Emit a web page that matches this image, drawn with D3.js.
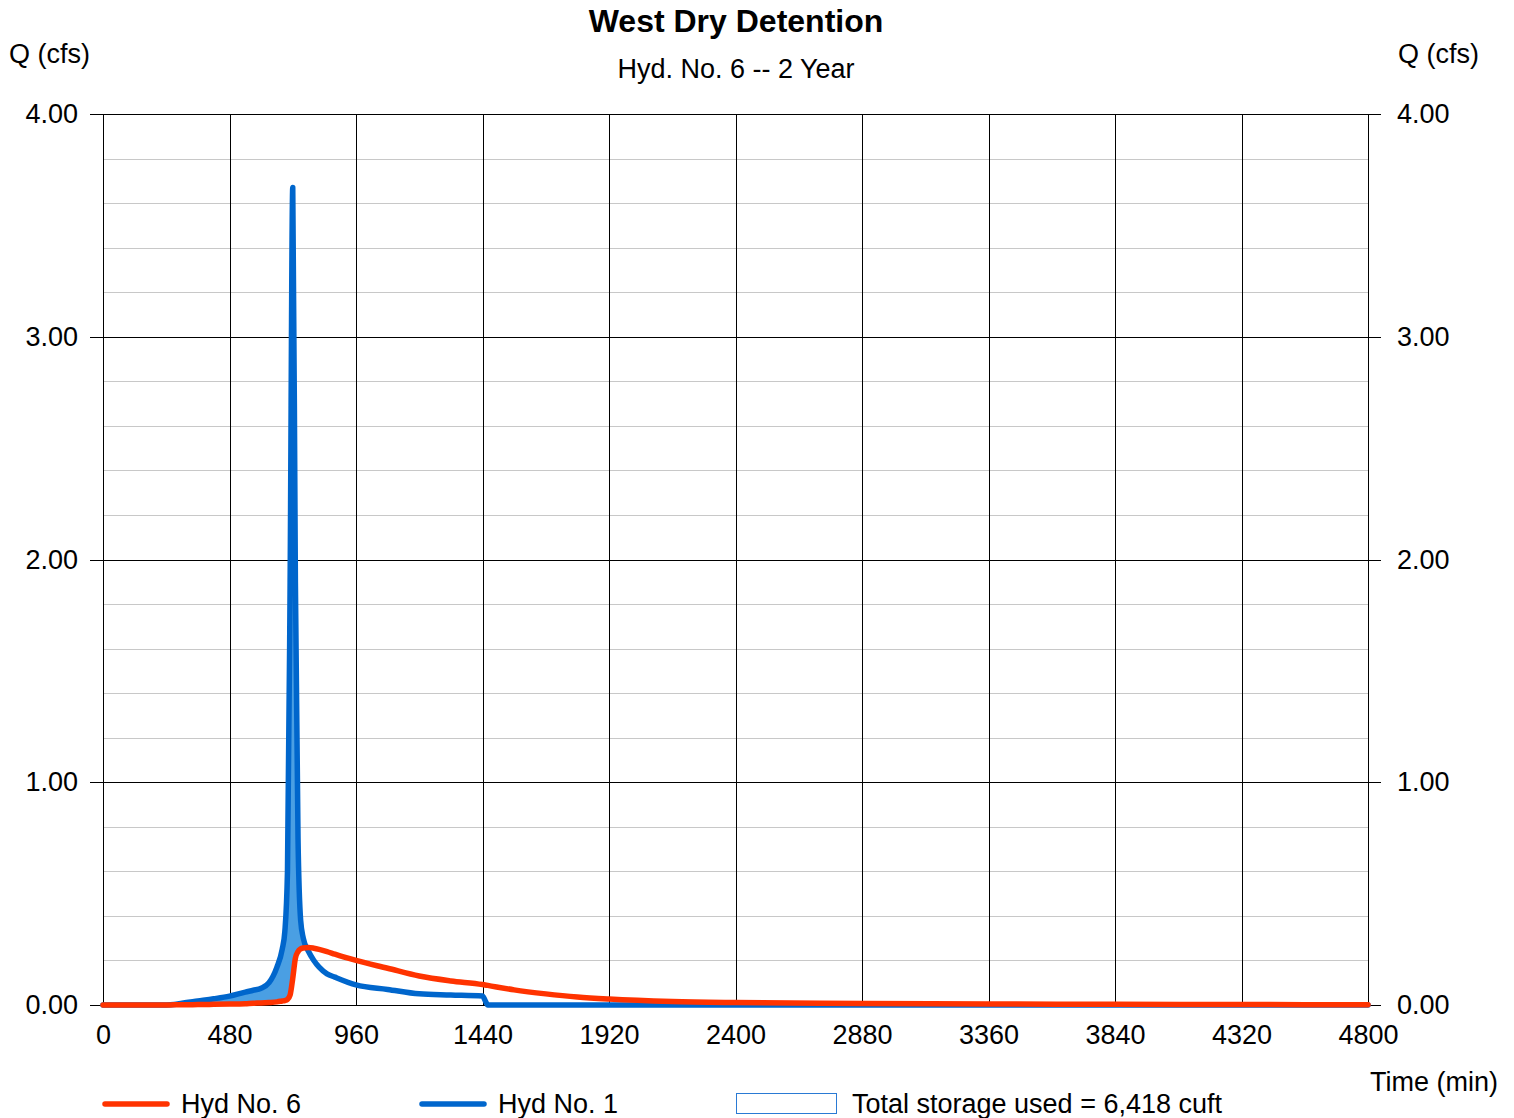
<!DOCTYPE html>
<html>
<head>
<meta charset="utf-8">
<script src="https://cdn.jsdelivr.net/npm/d3@7"></script>
<style>
  body { margin: 0; background: #fff; }
  svg text { font-family: "Liberation Sans", Arial, sans-serif; fill: #000; }
</style>
</head>
<body>
<div id="chart"></div>
<script>
// time (min) shared by both hydrographs
const timeMin = [0, 240, 270, 300, 360, 420, 480, 540, 570, 600, 630, 660, 680, 690, 700, 710, 720, 730, 740, 750, 760,
  780, 800, 820, 850, 880, 960, 1080, 1200, 1320, 1440, 1450, 1460, 1560, 1680, 1800, 1920, 2160, 2400, 2880, 3360, 3840, 4320, 4800];
// Hyd No. 1 (inflow)
const hyd1 = [0, 0, 0.002, 0.008, 0.018, 0.028, 0.04, 0.058, 0.066, 0.075, 0.1, 0.17, 0.25, 0.33, 0.6, 1.9, 3.67, 1.9, 0.75, 0.38, 0.3,
  0.24, 0.2, 0.17, 0.14, 0.125, 0.09, 0.07, 0.05, 0.045, 0.04, 0.02, 0, 0, 0, 0, 0, 0, 0, 0, 0, 0, 0, 0];
// Hyd No. 6 (outflow)
const hyd6 = [0, 0, 0.001, 0.001, 0.002, 0.003, 0.004, 0.006, 0.008, 0.009, 0.011, 0.014, 0.018, 0.02, 0.025, 0.045, 0.12, 0.21, 0.24, 0.252, 0.256,
  0.258, 0.255, 0.25, 0.24, 0.228, 0.2, 0.165, 0.13, 0.108, 0.092, 0.09, 0.088, 0.068, 0.05, 0.036, 0.027, 0.016, 0.011, 0.007, 0.005, 0.003, 0.002, 0.001];

const xTicks = [0, 480, 960, 1440, 1920, 2400, 2880, 3360, 3840, 4320, 4800];
const yMajor = [0, 1, 2, 3, 4];
const yMinor = d3.range(0, 4.01, 0.2);

const title = "West Dry Detention";
const subtitle = "Hyd. No. 6 -- 2 Year";
const legendItems = ["Hyd No. 6", "Hyd No. 1", "Total storage used = 6,418 cuft"];

const red = "#ff3300", blue = "#0066cc", fillBlue = "#4a9fe3";

const W = 1514, H = 1118;
const margin = { top: 114, right: 146, bottom: 113, left: 103 };
const width = W - margin.left - margin.right;
const height = H - margin.top - margin.bottom;

const svg = d3.select("#chart").append("svg")
  .attr("width", W).attr("height", H);

const x = d3.scaleLinear().domain([0, 4800]).range([0, width]);
const y = d3.scaleLinear().domain([0, 4]).range([height, 0]);

// titles
svg.append("text").attr("x", 736).attr("y", 32).attr("text-anchor", "middle")
  .style("font-size", "32px").style("font-weight", "bold").text(title);
svg.append("text").attr("x", 736).attr("y", 78).attr("text-anchor", "middle")
  .style("font-size", "27px").text(subtitle);
svg.append("text").attr("x", 9).attr("y", 63).style("font-size", "27px").text("Q (cfs)");
svg.append("text").attr("x", 1479).attr("y", 63).attr("text-anchor", "end").style("font-size", "27px").text("Q (cfs)");
svg.append("text").attr("x", 1498).attr("y", 1091).attr("text-anchor", "end").style("font-size", "27px").text("Time (min)");

const g = svg.append("g").attr("transform", `translate(${margin.left},${margin.top})`);

// minor grid
g.selectAll(".minor").data(yMinor).enter().append("line")
  .attr("x1", 0).attr("x2", width)
  .attr("y1", d => Math.round(y(d)) + 0.5).attr("y2", d => Math.round(y(d)) + 0.5)
  .attr("stroke", "#c8c8c8").attr("stroke-width", 1);

// vertical grid
g.selectAll(".vgrid").data(xTicks).enter().append("line")
  .attr("x1", d => Math.round(x(d)) + 0.5).attr("x2", d => Math.round(x(d)) + 0.5)
  .attr("y1", 0).attr("y2", height)
  .attr("stroke", "#000").attr("stroke-width", 1);

// major horizontal grid with ticks outside
g.selectAll(".major").data(yMajor).enter().append("line")
  .attr("x1", -13).attr("x2", width + 13)
  .attr("y1", d => Math.round(y(d)) + 0.5).attr("y2", d => Math.round(y(d)) + 0.5)
  .attr("stroke", "#000").attr("stroke-width", 1);

// axes (labels only)
const fmt = d3.format(".2f");
const leftAxis = g.append("g").attr("transform", "translate(-13,0)")
  .call(d3.axisLeft(y).tickValues(yMajor).tickFormat(fmt).tickSize(0).tickPadding(12));
const rightAxis = g.append("g").attr("transform", `translate(${width + 13},0)`)
  .call(d3.axisRight(y).tickValues(yMajor).tickFormat(fmt).tickSize(0).tickPadding(16));
const bottomAxis = g.append("g").attr("transform", `translate(0,${height})`)
  .call(d3.axisBottom(x).tickValues(xTicks).tickFormat(d3.format("d")).tickSize(0).tickPadding(20));
[leftAxis, rightAxis, bottomAxis].forEach(a => {
  a.select(".domain").remove();
  a.selectAll("text").style("font-size", "27px").attr("fill", "#000");
});

// data
const pts = timeMin.map((t, i) => ({ t, q1: hyd1[i], q6: hyd6[i] }));

const area = d3.area()
  .x(d => x(d.t))
  .y0(d => y(d.q6))
  .y1(d => y(Math.max(d.q1, d.q6)));
g.append("path").datum(pts.filter(d => d.t >= 240 && d.t <= 800))
  .attr("d", area).attr("fill", fillBlue);

const line1 = d3.line().x(d => x(d.t)).y(d => y(d.q1)).curve(d3.curveMonotoneX);
const line6 = d3.line().x(d => x(d.t)).y(d => y(d.q6)).curve(d3.curveMonotoneX);

g.append("path").datum(pts).attr("d", line1)
  .attr("fill", "none").attr("stroke", blue).attr("stroke-width", 5.5)
  .attr("stroke-linejoin", "round").attr("stroke-linecap", "round");
g.append("path").datum(pts).attr("d", line6)
  .attr("fill", "none").attr("stroke", red).attr("stroke-width", 5.5)
  .attr("stroke-linejoin", "round").attr("stroke-linecap", "round");

// legend
const lg = svg.append("g");
const lx = [103, 420];
const lc = [red, blue];
lx.forEach((px, i) => {
  lg.append("line").attr("x1", px + 2).attr("x2", px + 64).attr("y1", 1104).attr("y2", 1104)
    .attr("stroke", lc[i]).attr("stroke-width", 5.5).attr("stroke-linecap", "round");
  lg.append("text").attr("x", px + 78).attr("y", 1113).style("font-size", "27px").text(legendItems[i]);
});
lg.append("rect").attr("x", 736.5).attr("y", 1093.5).attr("width", 100).attr("height", 20)
  .attr("fill", "#fff").attr("stroke", "#2a7ad4").attr("stroke-width", 1);
lg.append("text").attr("x", 852).attr("y", 1113).style("font-size", "27px").text(legendItems[2]);
</script>
</body>
</html>
